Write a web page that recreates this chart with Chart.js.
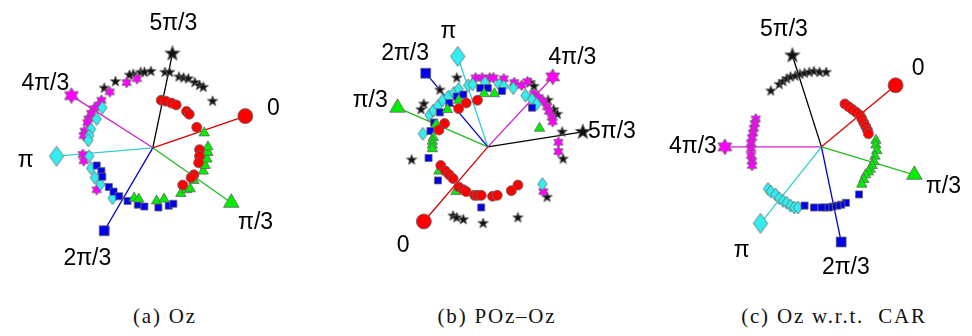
<!DOCTYPE html>
<html lang="en">
<head>
<meta charset="UTF-8">
<title>Phase plots</title>
<script src="https://cdn.jsdelivr.net/npm/chart.js"></script>
<style>
  body { margin: 0; background: #fff; }
  #wrap { position: relative; width: 972px; height: 336px; overflow: hidden; }
  .panel { position: absolute; top: 0; height: 290px; }
  .cap { position: absolute; top: 304px; font: 21px "Liberation Serif", "DejaVu Serif", serif; letter-spacing: 1.8px;
         color: #111; transform: translateX(-50%); white-space: nowrap; }
</style>
</head>
<body>
<div id="wrap">
  <div class="panel" style="left:0;width:300px"><canvas id="ozChart"></canvas></div>
  <div class="panel" style="left:320px;width:330px"><canvas id="pozChart"></canvas></div>
  <div class="panel" style="left:655px;width:317px"><canvas id="carChart"></canvas></div>
  <div class="cap" style="left:165px">(a) Oz</div>
  <div class="cap" style="left:497px">(b) POz–Oz</div>
  <div class="cap" style="left:834px">(c) Oz w.r.t.&nbsp; CAR</div>
</div>

<script>
// phase labels, in the order of the six spokes
const phaseLabels = ['0', 'π/3', '2π/3', 'π', '4π/3', '5π/3'];

// ---- (a) Oz ----
const ozEnds = [[99, 34], [84, -59], [-52, -89], [-103, -9], [-87, 56], [21, 101]];
const ozRed = [[9, 51], [14, 50], [20, 48], [25, 46], [36, 39], [39, 36], [47, 22], [50, -2], [50, -9], [49, -16], [44, -29], [41, -32], [32, -40]];
const ozGreen = [[-20, -54], [-15, -55], [4, -57], [12, -55], [30, -49], [36, -45], [40, -44], [44, -35], [54, -25], [56, -19], [58, -12], [59, -5], [59, 1], [55, 16]];
const ozBlue = [[-60, -19], [-55, -25], [-54, -31], [-47, -42], [-42, -47], [-36, -52], [-27, -57], [-16, -61], [-9, -63], [6, -64], [17, -62], [22, -60]];
const ozCyan = [[-54, 43], [-60, 31], [-66, 20], [-68, 13], [-69, 8], [-68, -9], [-66, -22], [-62, -32], [-56, -39], [-43, -54]];
const ozMagenta = [[-28, 70], [-17, 74], [-46, 60], [-55, 51], [-58, 46], [-63, 42], [-66, 37], [-69, 31], [-70, 27], [-73, 18], [-74, 13], [-75, -7], [-74, -14], [-60, -45]];
const ozBlack = [[-21, 79], [-25, 78], [-13, 81], [-9, 81], [-2, 82], [13, 81], [18, 81], [28, 76], [33, 75], [38, 74], [45, 70], [50, 67], [54, 65], [64, 50], [-40, 71], [-52, 64]];

// ---- (b) POz-Oz ----
const pozEnds = [[-68, -80], [-96, 42], [-66, 79], [-32, 97], [69, 75], [101, 16]];
const pozRed = [[-31, 41], [-23, 47], [-11, 50], [-46, 25], [-52, 18], [-50, -20], [-45, -26], [-41, -30], [-37, -34], [-31, -43], [-26, -46], [-23, -48], [-14, -52], [-11, -52], [-7, -52], [5, -53], [10, -52], [25, -47], [32, -41]];
const pozGreen = [[-43, 40], [-31, 50], [-55, 24], [-58, 10], [-59, 6], [-59, 2], [-59, -2], [-52, -26], [-34, -48], [-4, 57], [7, 57], [55, 20]];
const pozBlue = [[-51, 37], [-61, 17], [-57, 26], [-41, 47], [-33, 54], [-26, 56], [-8, 63], [0, 63], [15, 60], [47, 42], [-63, -12], [-53, -36], [-7, -65]];
const pozCyan = [[-69, 14], [-62, 34], [-58, 39], [-53, 44], [-48, 50], [-42, 54], [-36, 58], [-31, 62], [-21, 66], [-16, 67], [-3, 69], [12, 67], [17, 65], [27, 63], [40, 55], [47, 51], [52, 46], [58, -40]];
const pozMagenta = [[-13, 74], [-6, 74], [2, 74], [6, 74], [17, 73], [28, 69], [36, 66], [42, 70], [49, 57], [54, 53], [59, 49], [63, 43], [65, 38], [68, 32], [69, 27], [75, 5], [75, -5], [59, -48]];
const pozBlack = [[-33, 74], [-51, 61], [-68, 46], [-71, 40], [-81, -14], [45, 69], [49, 65], [64, 50], [70, 40], [74, 35], [79, 16], [80, -13], [63, -54], [-37, -74], [-33, -76], [-26, -78], [-5, -82], [32, -76]];

// ---- (c) Oz w.r.t. CAR ----
const carEnds = [[79, 66], [99, -30], [21, -102], [-65, -82], [-103, 0], [-31, 98]];
const carRed = [[25, 46], [29, 43], [33, 40], [37, 37], [41, 34], [43, 30], [45, 26], [47, 22], [49, 18], [50, 14]];
const carGreen = [[58, 7], [58, 2], [59, -4], [57, -10], [56, -16], [54, -20], [52, -24], [50, -27], [47, -30], [45, -35], [43, -40]];
const carBlue = [[40, -51], [26, -60], [21, -62], [17, -63], [12, -64], [8, -65], [4, -65], [0, -65], [-8, -65], [-18, -63]];
const carCyan = [[-57, -45], [-54, -48], [-49, -51], [-45, -55], [-41, -58], [-37, -60], [-33, -63], [-29, -65], [-25, -65]];
const carMagenta = [[-70, 30], [-71, 25], [-72, 20], [-73, 15], [-74, 10], [-75, 4], [-75, -2], [-75, -9], [-74, -15], [-74, -20]];
const carBlack = [[-54, 60], [-45, 67], [-41, 70], [-37, 73], [-33, 75], [-28, 76], [-23, 78], [-18, 79], [-13, 80], [-8, 81], [-2, 80], [5, 80]];

// custom marker glyphs drawn on small canvases
function makeGlyph(size, fill, drawPath) {
    const c = document.createElement('canvas');
    c.width = size + 2; c.height = size + 2;
    const ctx = c.getContext('2d');
    ctx.translate(c.width / 2, c.height / 2);
    ctx.beginPath();
    drawPath(ctx, size / 2);
    ctx.closePath();
    ctx.fillStyle = fill;
    ctx.fill();
    ctx.lineWidth = 0.8;
    ctx.strokeStyle = '#666';
    ctx.stroke();
    return c;
}
function starPath(ctx, r) {
    for (let i = 0; i < 10; i++) {
        const rad = i % 2 === 0 ? r : r * 0.42;
        const a = -Math.PI / 2 + i * Math.PI / 5;
        ctx.lineTo(rad * Math.cos(a), rad * Math.sin(a));
    }
}
function hexPath(ctx, r) {
    for (let i = 0; i < 12; i++) {
        const rad = i % 2 === 0 ? r : r * 0.58;
        const a = -Math.PI / 2 + i * Math.PI / 6;
        ctx.lineTo(rad * Math.cos(a), rad * Math.sin(a));
    }
}
function diamondPath(ctx, r) {
    ctx.moveTo(0, -r); ctx.lineTo(r * 0.72, 0); ctx.lineTo(0, r); ctx.lineTo(-r * 0.72, 0);
}

const glyphs = {
    starSmall: makeGlyph(11, '#111', starPath),
    starBig: makeGlyph(16, '#111', starPath),
    hexSmall: makeGlyph(11, '#ff00ff', hexPath),
    hexBig: makeGlyph(16, '#ff00ff', hexPath),
    diaSmall: makeGlyph(13, '#33eef0', diamondPath),
    diaBig: makeGlyph(20, '#33eef0', diamondPath)
};

// one style per phase: spoke colour, marker fill, marker shape (small/big)
const phaseStyles = [
    { line: '#dd0000', fill: '#ff0000', small: 'circle', big: 'circle', rs: 5, rb: 7.5 },
    { line: '#22bb22', fill: '#00ee00', small: 'triangle', big: 'triangle', rs: 6, rb: 9 },
    { line: '#0000cc', fill: '#0000ee', small: 'rect', big: 'rect', rs: 5, rb: 7 },
    { line: '#33cccc', fill: '#33eef0', small: glyphs.diaSmall, big: glyphs.diaBig, rs: 5, rb: 8 },
    { line: '#cc22cc', fill: '#ff00ff', small: glyphs.hexSmall, big: glyphs.hexBig, rs: 5, rb: 7 },
    { line: '#000000', fill: '#111111', small: glyphs.starSmall, big: glyphs.starBig, rs: 5, rb: 7 }
];

const labelPlugin = {
    id: 'phaseLabels',
    afterDatasetsDraw(chart, args, opts) {
        const { ctx, scales } = chart;
        ctx.save();
        ctx.font = '23px "Liberation Sans", Arial, sans-serif';
        ctx.fillStyle = '#000';
        ctx.textAlign = 'center';
        ctx.textBaseline = 'middle';
        opts.positions.forEach((p, i) => {
            ctx.fillText(phaseLabels[i], scales.x.getPixelForValue(p[0]), scales.y.getPixelForValue(p[1]));
        });
        ctx.restore();
    }
};

const toXY = arr => arr.map(p => ({ x: p[0], y: p[1] }));

function drawPanel(id, ends, series, xr, yr, labelPos) {
    const datasets = [];
    // spokes with their big end markers (underneath)
    ends.forEach((e, i) => {
        const s = phaseStyles[i];
        datasets.push({
            type: 'line',
            data: toXY([[0, 0], e]),
            borderColor: s.line,
            borderWidth: 1.3,
            pointRadius: [0, s.rb],
            pointStyle: s.big,
            pointBackgroundColor: s.fill,
            pointBorderColor: '#666',
            pointBorderWidth: 0.8,
            order: 2
        });
    });
    // scattered small markers
    series.forEach((pts, i) => {
        const s = phaseStyles[i];
        datasets.push({
            type: 'scatter',
            data: toXY(pts),
            pointRadius: s.rs,
            pointStyle: s.small,
            backgroundColor: s.fill,
            borderColor: '#666',
            borderWidth: 0.8,
            order: 1
        });
    });
    new Chart(document.getElementById(id), {
        type: 'scatter',
        data: { datasets },
        options: {
            responsive: true,
            maintainAspectRatio: false,
            animation: false,
            layout: { padding: 0 },
            plugins: { legend: { display: false }, tooltip: { enabled: false }, phaseLabels: { positions: labelPos } },
            scales: {
                x: { type: 'linear', display: false, min: xr[0], max: xr[1] },
                y: { type: 'linear', display: false, min: yr[0], max: yr[1] }
            }
        },
        plugins: [labelPlugin]
    });
}

drawPanel('ozChart', ozEnds, [ozRed, ozGreen, ozBlue, ozCyan, ozMagenta, ozBlack],
    [-153, 147], [-142, 148],
    [[129, 42], [110, -80], [-70, -119], [-136, -14], [-115, 69], [22, 133]]);
drawPanel('pozChart', pozEnds, [pozRed, pozGreen, pozBlue, pozCyan, pozMagenta, pozBlack],
    [-168, 162], [-143, 147],
    [[-90, -106], [-125, 50], [-88, 100], [-42, 124], [90, 96], [132, 16]]);
drawPanel('carChart', carEnds, [carRed, carGreen, carBlue, carCyan, carMagenta, carBlack],
    [-167, 150], [-143, 147],
    [[103, 84], [130, -43], [26, -130], [-85, -111], [-137, 0], [-40, 126]]);
</script>
</body>
</html>
